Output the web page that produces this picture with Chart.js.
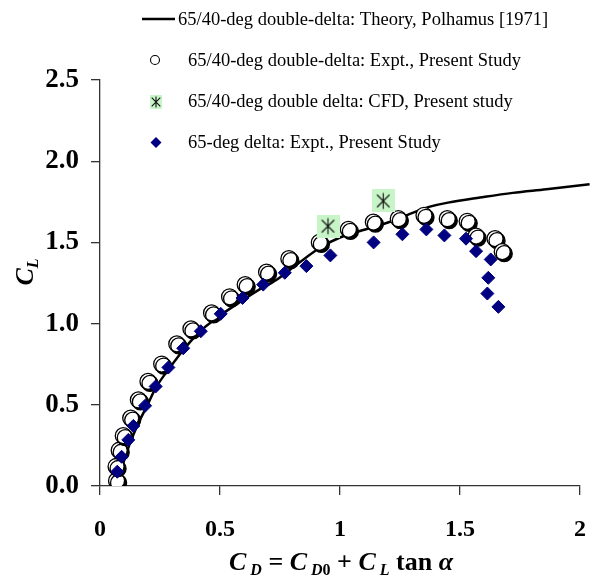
<!DOCTYPE html>
<html>
<head>
<meta charset="utf-8">
<script src="https://cdn.jsdelivr.net/npm/chart.js@4.4.1/dist/chart.umd.min.js"></script>
<style>
  html, body { margin: 0; padding: 0; background: #fff; }
  #wrap { width: 590px; height: 580px; }
</style>
</head>
<body>
<div id="wrap"><canvas id="dragPolar" width="590" height="580"></canvas></div>
<script>
"use strict";

// lift vs. drag polar, 65/40 double-delta and 65 delta wings
const seriesLabels = [
  "65/40-deg double-delta: Theory, Polhamus [1971]",
  "65/40-deg double-delta: Expt., Present Study",
  "65/40-deg double delta: CFD, Present study",
  "65-deg delta: Expt., Present Study",
];

const theoryCD = [0.075, 0.08, 0.097, 0.125, 0.16, 0.195, 0.236, 0.29, 0.354, 0.417, 0.486, 0.57, 0.653, 0.736, 0.825, 0.92, 1.0, 1.083, 1.215, 1.305, 1.375, 1.45, 1.583, 1.72, 1.86, 2.04];
const theoryCL = [0.0, 0.06, 0.14, 0.264, 0.387, 0.49, 0.613, 0.727, 0.85, 0.953, 1.035, 1.12, 1.2, 1.27, 1.37, 1.47, 1.53, 1.57, 1.63, 1.683, 1.72, 1.745, 1.776, 1.805, 1.827, 1.858];

const doubleDeltaCD = [0.069, 0.067, 0.08, 0.097, 0.128, 0.16, 0.2, 0.257, 0.32, 0.379, 0.465, 0.54, 0.605, 0.694, 0.787, 0.914, 1.035, 1.139, 1.243, 1.35, 1.447, 1.53, 1.567, 1.646, 1.676];
const doubleDeltaCL = [0.033, 0.12, 0.22, 0.31, 0.418, 0.53, 0.644, 0.751, 0.875, 0.967, 1.066, 1.165, 1.24, 1.317, 1.4, 1.5, 1.58, 1.625, 1.646, 1.667, 1.646, 1.63, 1.539, 1.523, 1.443];

const cfdCD = [0.95, 1.18];
const cfdCL = [1.6, 1.755];

const deltaCD = [0.072, 0.09, 0.118, 0.139, 0.188, 0.232, 0.285, 0.347, 0.42, 0.503, 0.594, 0.68, 0.77, 0.86, 0.96, 1.14, 1.26, 1.36, 1.435, 1.525, 1.567, 1.628, 1.618, 1.614, 1.66];
const deltaCL = [0.088, 0.18, 0.284, 0.37, 0.494, 0.613, 0.73, 0.848, 0.953, 1.06, 1.158, 1.24, 1.313, 1.354, 1.42, 1.5, 1.55, 1.58, 1.543, 1.523, 1.446, 1.395, 1.282, 1.185, 1.103];

const xTicks = [0, 0.5, 1, 1.5, 2];
const yTicks = [0, 0.5, 1.0, 1.5, 2.0, 2.5];

const SERIF = '"Liberation Serif", "Times New Roman", serif';
const NAVY = "#000080";
const CFD_GREEN = "#c8f5c8";

const toPoints = (xs, ys) => xs.map((x, i) => ({ x: x, y: ys[i] }));

// green box with a six-armed asterisk (CFD marker)
function asteriskBox(w, h, arm) {
  const c = document.createElement("canvas");
  c.width = w;
  c.height = h;
  const g = c.getContext("2d");
  g.fillStyle = CFD_GREEN;
  g.fillRect(0, 0, w, h);
  drawAsterisk(g, w / 2, h / 2, arm);
  return c;
}

function drawAsterisk(g, cx, cy, arm) {
  const d = arm * 0.78;
  g.strokeStyle = "#111";
  g.lineWidth = 1.1;
  g.beginPath();
  g.moveTo(cx, cy - arm);
  g.lineTo(cx, cy + arm);
  g.moveTo(cx - d, cy - d);
  g.lineTo(cx + d, cy + d);
  g.moveTo(cx + d, cy - d);
  g.lineTo(cx - d, cy + d);
  g.stroke();
}

const cfdMarker = asteriskBox(23, 23, 8);

// text with subscripts, laid out left to right
function richWidth(ctx, parts) {
  let w = 0;
  parts.forEach((p) => {
    ctx.font = p.font;
    w += ctx.measureText(p.t).width;
  });
  return w;
}

function drawRich(ctx, parts, cx, cy) {
  let x = cx - richWidth(ctx, parts) / 2;
  ctx.textAlign = "left";
  ctx.textBaseline = "alphabetic";
  parts.forEach((p) => {
    ctx.font = p.font;
    ctx.fillText(p.t, x, cy + (p.dy || 0));
    x += ctx.measureText(p.t).width;
  });
}

const big = "bold italic 26px " + SERIF;
const bigUp = "bold 26px " + SERIF;
const sub = "bold italic 16px " + SERIF;
const subUp = "bold 16px " + SERIF;

const xTitleParts = [
  { t: "C", font: big },
  { t: " D", font: sub, dy: 5 },
  { t: " = ", font: bigUp },
  { t: "C", font: big },
  { t: " D", font: sub, dy: 5 },
  { t: "0", font: subUp, dy: 5 },
  { t: " + ", font: bigUp },
  { t: "C", font: big },
  { t: " L", font: sub, dy: 5 },
  { t: " tan ", font: bigUp },
  { t: "α", font: big },
];

const yTitleParts = [
  { t: "C", font: big },
  { t: "L", font: sub, dy: 5 },
];

const axisTitles = {
  id: "axisTitles",
  afterDraw(chart) {
    const ctx = chart.ctx;
    ctx.save();
    ctx.fillStyle = "#000";
    drawRich(ctx, xTitleParts, 341, 570);
    ctx.translate(33, 272);
    ctx.rotate(-Math.PI / 2);
    drawRich(ctx, yTitleParts, 0, 0);
    ctx.restore();
  },
};

// open circles carry a hard black drop shadow
const markerShadow = {
  id: "markerShadow",
  beforeDatasetDraw(chart, args) {
    if (!chart.data.datasets[args.index].shadow) return;
    const ctx = chart.ctx;
    ctx.save();
    ctx.shadowColor = "#000";
    ctx.shadowOffsetX = 2;
    ctx.shadowOffsetY = 2;
    ctx.shadowBlur = 0;
  },
  afterDatasetDraw(chart, args) {
    if (!chart.data.datasets[args.index].shadow) return;
    chart.ctx.restore();
  },
};

const legendRows = {
  id: "legendRows",
  afterDraw(chart) {
    const ctx = chart.ctx;
    const ds = chart.data.datasets;
    ctx.save();
    ctx.font = "18.5px " + SERIF;
    ctx.fillStyle = "#000";
    ctx.textAlign = "left";
    ctx.textBaseline = "middle";

    // theory line
    ctx.strokeStyle = "#000";
    ctx.lineWidth = 2.5;
    ctx.beginPath();
    ctx.moveTo(142, 19);
    ctx.lineTo(175, 19);
    ctx.stroke();
    ctx.fillText(ds[0].label, 178, 20);

    // experiment circles
    ctx.lineWidth = 1.1;
    ctx.fillStyle = "#fff";
    ctx.beginPath();
    ctx.arc(155, 60, 4.5, 0, Math.PI * 2);
    ctx.fill();
    ctx.stroke();
    ctx.fillStyle = "#000";
    ctx.fillText(ds[1].label, 188, 61);

    // CFD box
    ctx.fillStyle = CFD_GREEN;
    ctx.fillRect(150, 95, 12, 14);
    drawAsterisk(ctx, 156, 102, 5.5);
    ctx.fillStyle = "#000";
    ctx.fillText(ds[2].label, 188, 102);

    // delta diamonds
    ctx.fillStyle = NAVY;
    ctx.beginPath();
    ctx.moveTo(156, 137);
    ctx.lineTo(161.5, 142.5);
    ctx.lineTo(156, 148);
    ctx.lineTo(150.5, 142.5);
    ctx.closePath();
    ctx.fill();
    ctx.fillStyle = "#000";
    ctx.fillText(ds[3].label, 188, 143);
    ctx.restore();
  },
};

const ctx = document.getElementById("dragPolar").getContext("2d");
new Chart(ctx, {
  type: "scatter",
  data: {
    datasets: [
      {
        label: seriesLabels[0],
        type: "line",
        data: toPoints(theoryCD, theoryCL),
        borderColor: "#000",
        borderWidth: 2.5,
        pointRadius: 0,
        tension: 0.35,
        fill: false,
        clip: { left: 0, top: 0, right: 12, bottom: 0 },
        order: 4,
      },
      {
        label: seriesLabels[1],
        data: toPoints(doubleDeltaCD, doubleDeltaCL),
        pointStyle: "circle",
        pointRadius: 8,
        pointBackgroundColor: "#fff",
        pointBorderColor: "#000",
        pointBorderWidth: 1.3,
        shadow: true,
        order: 3,
      },
      {
        label: seriesLabels[2],
        data: toPoints(cfdCD, cfdCL),
        pointStyle: cfdMarker,
        pointRadius: 12,
        order: 1,
      },
      {
        label: seriesLabels[3],
        data: toPoints(deltaCD, deltaCL),
        pointStyle: "rectRot",
        pointRadius: 6.5,
        pointBackgroundColor: NAVY,
        pointBorderColor: NAVY,
        pointBorderWidth: 1,
        order: 2,
      },
    ],
  },
  options: {
    responsive: false,
    animation: false,
    devicePixelRatio: 1,
    layout: {
      autoPadding: false,
      padding: { top: 80, right: 10, left: 0, bottom: 0 },
    },
    plugins: {
      legend: { display: false },
      tooltip: { enabled: false },
    },
    scales: {
      x: {
        type: "linear",
        min: 0,
        max: 2,
        afterBuildTicks: (scale) => {
          scale.ticks = xTicks.map((v) => ({ value: v }));
        },
        afterFit: (scale) => {
          scale.height = 94;
          scale.paddingLeft = 0;
          scale.paddingRight = 0;
        },
        border: { display: true, color: "#333", width: 1.3 },
        grid: {
          drawOnChartArea: false,
          drawTicks: true,
          tickLength: 9,
          color: "#333",
          lineWidth: 1.3,
        },
        ticks: {
          padding: 20,
          color: "#000",
          font: { family: SERIF, size: 24, weight: "bold" },
          callback: (v) => String(v),
        },
      },
      y: {
        type: "linear",
        min: 0,
        max: 2.5,
        afterBuildTicks: (scale) => {
          scale.ticks = yTicks.map((v) => ({ value: v }));
        },
        afterFit: (scale) => {
          scale.width = 100;
        },
        border: { display: true, color: "#333", width: 1.3 },
        grid: {
          drawOnChartArea: false,
          drawTicks: true,
          tickLength: 9,
          color: "#333",
          lineWidth: 1.3,
        },
        ticks: {
          padding: 12,
          color: "#000",
          font: { family: SERIF, size: 27, weight: "bold" },
          callback: (v) => v.toFixed(1),
        },
      },
    },
  },
  plugins: [markerShadow, axisTitles, legendRows],
});
</script>
</body>
</html>
